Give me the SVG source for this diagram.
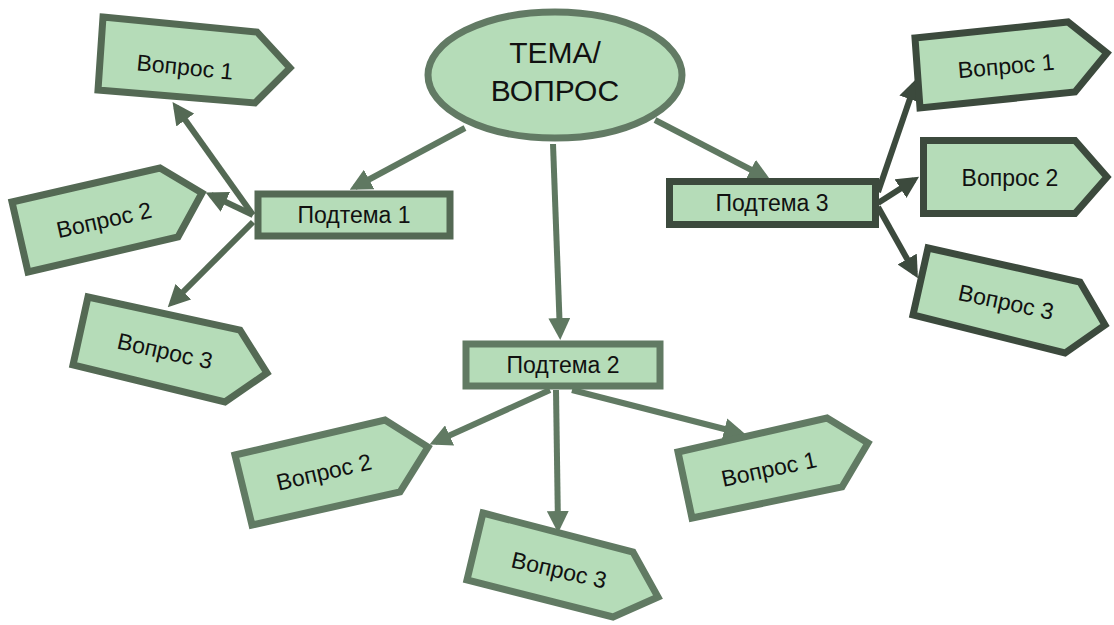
<svg xmlns="http://www.w3.org/2000/svg" width="1114" height="625" viewBox="0 0 1114 625">
<style>
  .shape { fill: #b5dcb8; stroke-width: 7; stroke-linejoin: miter; }
  .g1 { stroke: #546954; }
  .g2 { stroke: #617a63; }
  .g3 { stroke: #3c4a3d; }
  .g0 { stroke: #627a64; }
  .lbl { font-family: "Liberation Sans", Arial, sans-serif; font-size: 23px; fill: #111; text-anchor: middle; }
  .big { font-family: "Liberation Sans", Arial, sans-serif; font-size: 30px; fill: #111; text-anchor: middle; }
  .c0 { stroke: #5f7861; stroke-width: 6; fill: none; marker-end: url(#a0); }
  .c1 { stroke: #546954; stroke-width: 6; fill: none; marker-end: url(#a1); }
  .c2 { stroke: #617a63; stroke-width: 6; fill: none; marker-end: url(#a2); }
  .c3 { stroke: #3c4a3d; stroke-width: 6; fill: none; marker-end: url(#a3); }
</style>
<defs>
  <marker id="a0" viewBox="0 0 22 22" markerWidth="22" markerHeight="22" refX="16" refY="11" orient="auto" markerUnits="userSpaceOnUse"><path d="M0,0 L22,11 L0,22 Z" fill="#5f7861"/></marker>
  <marker id="a1" viewBox="0 0 22 22" markerWidth="22" markerHeight="22" refX="16" refY="11" orient="auto" markerUnits="userSpaceOnUse"><path d="M0,0 L22,11 L0,22 Z" fill="#546954"/></marker>
  <marker id="a2" viewBox="0 0 22 22" markerWidth="22" markerHeight="22" refX="16" refY="11" orient="auto" markerUnits="userSpaceOnUse"><path d="M0,0 L22,11 L0,22 Z" fill="#617a63"/></marker>
  <marker id="a3" viewBox="0 0 22 22" markerWidth="22" markerHeight="22" refX="16" refY="11" orient="auto" markerUnits="userSpaceOnUse"><path d="M0,0 L22,11 L0,22 Z" fill="#3c4a3d"/></marker>
</defs>
<rect width="1114" height="625" fill="#ffffff"/>
<g id="connectors">
  <line class="c0" x1="465" y1="128" x2="355" y2="187"/>
  <line class="c0" x1="553" y1="144" x2="560" y2="334"/>
  <line class="c0" x1="655" y1="120" x2="765" y2="177"/>
  <line class="c1" x1="253" y1="215" x2="176" y2="107"/>
  <line class="c1" x1="253" y1="215" x2="211" y2="195"/>
  <line class="c1" x1="253" y1="222" x2="172" y2="303"/>
  <line class="c2" x1="550" y1="390" x2="435" y2="442"/>
  <line class="c2" x1="556" y1="390" x2="558" y2="527"/>
  <line class="c2" x1="572" y1="390" x2="740" y2="433"/>
  <line class="c3" x1="878" y1="192" x2="915" y2="84"/>
  <line class="c3" x1="878" y1="203" x2="914" y2="180"/>
  <line class="c3" x1="878" y1="207" x2="915" y2="273"/>
</g>
<g id="topic">
  <ellipse class="shape g0" cx="555" cy="75" rx="127" ry="63" stroke-width="8"/>
  <text class="big" x="555" y="63">ТЕМА/</text>
  <text class="big" x="555" y="101">ВОПРОС</text>
</g>
<g id="sub1">
  <rect class="shape g1" x="258" y="194" width="192" height="42"/>
  <text class="lbl" x="354" y="223">Подтема 1</text>
</g>
<g id="sub2">
  <rect class="shape g2" x="466" y="344" width="194" height="42"/>
  <text class="lbl" x="563" y="373">Подтема 2</text>
</g>
<g id="sub3">
  <rect class="shape g3" x="669.5" y="181.5" width="206" height="43"/>
  <text class="lbl" x="772" y="211">Подтема 3</text>
</g>
<g id="q1-1">
  <path class="shape g1" d="M103,17 L257,32 L290,68 L255,103 L98,90 Z"/>
  <text class="lbl" x="185" y="75" transform="rotate(5.5 185 67)">Вопрос 1</text>
</g>
<g id="q1-2">
  <path class="shape g1" d="M12,202 L160,168 L202,193 L178,237 L28,272 Z"/>
  <text class="lbl" x="104" y="228" transform="rotate(-12.5 104 220)">Вопрос 2</text>
</g>
<g id="q1-3">
  <path class="shape g1" d="M88,297 L240,330 L267,373 L225,402 L73,365 Z"/>
  <text class="lbl" x="165" y="359" transform="rotate(12.5 165 351)">Вопрос 3</text>
</g>
<g id="q2-2">
  <path class="shape g2" d="M235,455 L385,420 L428,447 L400,492 L252,525 Z"/>
  <text class="lbl" x="324" y="480" transform="rotate(-13 324 472)">Вопрос 2</text>
</g>
<g id="q2-3">
  <path class="shape g2" d="M483,513 L633,552 L658,597 L613,617 L467,580 Z"/>
  <text class="lbl" x="559" y="578" transform="rotate(13 559 570)">Вопрос 3</text>
</g>
<g id="q2-1">
  <path class="shape g2" d="M678,452 L827,418 L868,443 L842,487 L692,518 Z"/>
  <text class="lbl" x="769" y="477" transform="rotate(-12 769 469)">Вопрос 1</text>
</g>
<g id="q3-1">
  <path class="shape g3" d="M915,38 L1068,22 L1107,53 L1075,92 L920,108 Z"/>
  <text class="lbl" x="1006" y="74" transform="rotate(-5 1006 66)">Вопрос 1</text>
</g>
<g id="q3-2">
  <path class="shape g3" d="M923.5,140.5 L1075,140.5 L1107,177 L1075,213.5 L923.5,213.5 Z"/>
  <text class="lbl" x="1010" y="186">Вопрос 2</text>
</g>
<g id="q3-3">
  <path class="shape g3" d="M928,248 L1080,282 L1105,325 L1065,353 L913,315 Z"/>
  <text class="lbl" x="1006" y="310" transform="rotate(12 1006 302)">Вопрос 3</text>
</g>
</svg>
